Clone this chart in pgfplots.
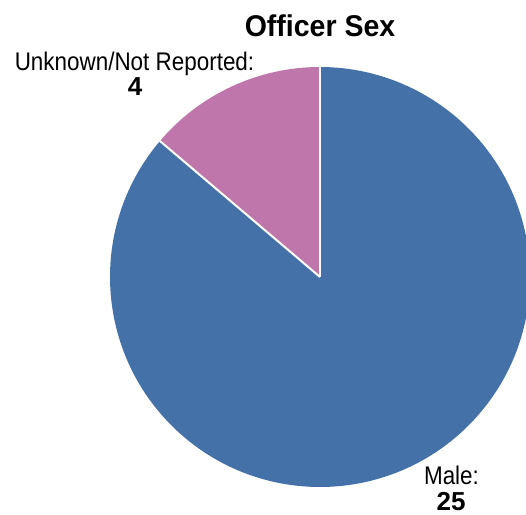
\documentclass[border=0pt]{standalone}
\usepackage{pgfplots}
\pgfplotsset{compat=1.18}
\usepackage{pgfplotstable}
\usepackage{fontspec}
\setmainfont{Liberation Sans}[FakeStretch=0.88]
\newfontfamily\titlefont{Liberation Sans}[FakeStretch=0.95]
\newfontfamily\numfont{Liberation Sans}
\definecolor{male}{RGB}{68,114,168}
\definecolor{unk}{RGB}{191,119,171}
\pgfplotstableread{
label value
Male 25
Unknown 4
}\sexdata
\begin{document}
\begin{tikzpicture}
\useasboundingbox (0,0) rectangle (526pt,514pt);
\clip (0,0) rectangle (526pt,514pt);
\pgfplotstablegetelem{0}{value}\of\sexdata \let\vmale\pgfplotsretval
\pgfplotstablegetelem{1}{value}\of\sexdata \let\vunk\pgfplotsretval
\pgfmathsetmacro\aU{90+360*\vunk/(\vmale+\vunk)}
\begin{axis}[x=1pt,y=1pt,xmin=0,xmax=526,ymin=0,ymax=514,hide axis,scale only axis,clip=false,at={(0,0)},anchor=south west]
\fill[male] (axis cs:320,237) -- ++(\aU:210pt) arc[start angle=\aU, end angle=450, radius=210pt] -- cycle;
\fill[unk] (axis cs:320,237) -- ++(90:210pt) arc[start angle=90, end angle=\aU, radius=210pt] -- cycle;
\draw[white, line width=2pt] (axis cs:320,237) -- ++(90:211pt);
\draw[white, line width=2pt] (axis cs:320,237) -- ++(\aU:211pt);
\node[anchor=base, inner sep=0pt, font=\titlefont\bfseries\fontsize{30}{36}\selectfont] at (axis cs:320,477) {Officer Sex};
\node[anchor=base, inner sep=0pt, font=\fontsize{25.5}{30}\selectfont] at (axis cs:134.5,443) {Unknown/Not Reported:};
\node[anchor=base, inner sep=0pt, font=\numfont\bfseries\fontsize{26}{30}\selectfont] at (axis cs:135,418) {\vunk};
\node[anchor=base, inner sep=0pt, font=\fontsize{25.5}{30}\selectfont] at (axis cs:451.5,30) {Male:};
\node[anchor=base, inner sep=0pt, font=\numfont\bfseries\fontsize{26}{30}\selectfont] at (axis cs:451,4) {\vmale};
\end{axis}
\end{tikzpicture}
\end{document}
